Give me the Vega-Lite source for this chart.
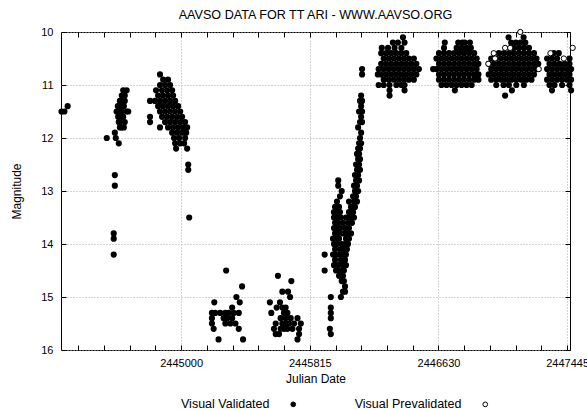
{
"$schema":"https://vega.github.io/schema/vega-lite/v6.json",
"width":509,"height":318,
"autosize":{"type":"none"},
"padding":{"left":61,"top":32,"right":17,"bottom":60},
"title":{"text":"AAVSO DATA FOR TT ARI - WWW.AAVSO.ORG","fontSize":12.6,"fontWeight":"normal","anchor":"middle","offset":4,"color":"#000","font":"Liberation Sans"},
"config":{"font":"Liberation Sans","view":{"stroke":"#000","strokeWidth":1},"background":"white"},
"datasets":{
"vis":[
{"jd":2444242,"mag":11.5},{"jd":2444261,"mag":11.5},{"jd":2444281,"mag":11.4},
{"jd":2444529,"mag":12.0},{"jd":2444580,"mag":11.9},{"jd":2444586,"mag":12.0},{"jd":2444605,"mag":12.1},{"jd":2444580,"mag":12.7},{"jd":2444580,"mag":12.9},{"jd":2444573,"mag":13.8},{"jd":2444573,"mag":13.9},{"jd":2444573,"mag":14.2},
{"jd":2444633,"mag":11.1},{"jd":2444655,"mag":11.1},{"jd":2444624,"mag":11.2},{"jd":2444643,"mag":11.2},{"jd":2444612,"mag":11.3},{"jd":2444630,"mag":11.3},{"jd":2444643,"mag":11.3},{"jd":2444599,"mag":11.4},{"jd":2444618,"mag":11.4},{"jd":2444637,"mag":11.4},{"jd":2444591,"mag":11.5},{"jd":2444610,"mag":11.5},{"jd":2444623,"mag":11.5},{"jd":2444655,"mag":11.5},{"jd":2444665,"mag":11.5},{"jd":2444601,"mag":11.6},{"jd":2444620,"mag":11.6},{"jd":2444633,"mag":11.6},{"jd":2444605,"mag":11.7},{"jd":2444612,"mag":11.7},{"jd":2444643,"mag":11.7},{"jd":2444612,"mag":11.8},{"jd":2444623,"mag":11.8},{"jd":2444637,"mag":11.8},
{"jd":2444866,"mag":10.8},{"jd":2444886,"mag":10.9},{"jd":2444917,"mag":10.9},{"jd":2444866,"mag":11.0},{"jd":2444898,"mag":11.0},{"jd":2444930,"mag":11.0},{"jd":2444841,"mag":11.1},{"jd":2444879,"mag":11.1},{"jd":2444911,"mag":11.1},{"jd":2444943,"mag":11.1},{"jd":2444854,"mag":11.2},{"jd":2444885,"mag":11.2},{"jd":2444917,"mag":11.2},{"jd":2444949,"mag":11.2},{"jd":2444803,"mag":11.3},{"jd":2444834,"mag":11.3},{"jd":2444866,"mag":11.3},{"jd":2444898,"mag":11.3},{"jd":2444930,"mag":11.3},{"jd":2444962,"mag":11.3},{"jd":2444854,"mag":11.4},{"jd":2444885,"mag":11.4},{"jd":2444917,"mag":11.4},{"jd":2444949,"mag":11.4},{"jd":2444981,"mag":11.4},{"jd":2444866,"mag":11.5},{"jd":2444898,"mag":11.5},{"jd":2444930,"mag":11.5},{"jd":2444962,"mag":11.5},{"jd":2444994,"mag":11.5},{"jd":2444803,"mag":11.6},{"jd":2444879,"mag":11.6},{"jd":2444911,"mag":11.6},{"jd":2444943,"mag":11.6},{"jd":2444975,"mag":11.6},{"jd":2445006,"mag":11.6},{"jd":2444803,"mag":11.7},{"jd":2444898,"mag":11.7},{"jd":2444930,"mag":11.7},{"jd":2444962,"mag":11.7},{"jd":2444994,"mag":11.7},{"jd":2445025,"mag":11.7},{"jd":2444866,"mag":11.8},{"jd":2444917,"mag":11.8},{"jd":2444949,"mag":11.8},{"jd":2444981,"mag":11.8},{"jd":2445013,"mag":11.8},{"jd":2445038,"mag":11.8},{"jd":2444943,"mag":11.9},{"jd":2444975,"mag":11.9},{"jd":2445006,"mag":11.9},{"jd":2445032,"mag":11.9},{"jd":2444955,"mag":12.0},{"jd":2444987,"mag":12.0},{"jd":2445025,"mag":12.0},{"jd":2444962,"mag":12.1},{"jd":2444994,"mag":12.1},{"jd":2445019,"mag":12.1},{"jd":2444968,"mag":12.2},{"jd":2445038,"mag":12.2},{"jd":2445045,"mag":12.5},{"jd":2445045,"mag":12.6},{"jd":2445051,"mag":13.5},
{"jd":2445285,"mag":14.5},{"jd":2445386,"mag":14.8},{"jd":2445210,"mag":15.1},{"jd":2445350,"mag":15.0},{"jd":2445371,"mag":15.1},{"jd":2445323,"mag":15.2},{"jd":2445195,"mag":15.3},{"jd":2445216,"mag":15.3},{"jd":2445248,"mag":15.3},{"jd":2445280,"mag":15.3},{"jd":2445301,"mag":15.3},{"jd":2445333,"mag":15.3},{"jd":2445365,"mag":15.3},{"jd":2445195,"mag":15.4},{"jd":2445269,"mag":15.4},{"jd":2445291,"mag":15.4},{"jd":2445323,"mag":15.4},{"jd":2445195,"mag":15.5},{"jd":2445280,"mag":15.5},{"jd":2445312,"mag":15.5},{"jd":2445344,"mag":15.5},{"jd":2445206,"mag":15.6},{"jd":2445365,"mag":15.6},{"jd":2445237,"mag":15.8},{"jd":2445392,"mag":15.8},
{"jd":2445613,"mag":14.6},{"jd":2445698,"mag":14.7},{"jd":2445641,"mag":14.9},{"jd":2445677,"mag":14.9},{"jd":2445690,"mag":15.0},{"jd":2445562,"mag":15.1},{"jd":2445626,"mag":15.1},{"jd":2445605,"mag":15.2},{"jd":2445641,"mag":15.2},{"jd":2445662,"mag":15.2},{"jd":2445571,"mag":15.3},{"jd":2445651,"mag":15.3},{"jd":2445673,"mag":15.3},{"jd":2445630,"mag":15.4},{"jd":2445662,"mag":15.4},{"jd":2445694,"mag":15.4},{"jd":2445737,"mag":15.4},{"jd":2445599,"mag":15.5},{"jd":2445641,"mag":15.5},{"jd":2445662,"mag":15.5},{"jd":2445683,"mag":15.5},{"jd":2445715,"mag":15.5},{"jd":2445758,"mag":15.5},{"jd":2445588,"mag":15.6},{"jd":2445630,"mag":15.6},{"jd":2445652,"mag":15.6},{"jd":2445673,"mag":15.6},{"jd":2445705,"mag":15.6},{"jd":2445747,"mag":15.6},{"jd":2445599,"mag":15.7},{"jd":2445620,"mag":15.7},{"jd":2445747,"mag":15.7},{"jd":2445737,"mag":15.8},
{"jd":2445948,"mag":15.0},{"jd":2445948,"mag":15.2},{"jd":2445948,"mag":15.3},{"jd":2445948,"mag":15.4},{"jd":2445942,"mag":15.6},{"jd":2445948,"mag":15.7},{"jd":2445909,"mag":14.2},{"jd":2445909,"mag":14.5},{"jd":2446012,"mag":15.0},{"jd":2446038,"mag":14.9},{"jd":2446038,"mag":14.8},{"jd":2446025,"mag":14.9},{"jd":2446017,"mag":14.7},{"jd":2446031,"mag":14.7},{"jd":2446000,"mag":14.6},{"jd":2446025,"mag":14.6},{"jd":2445981,"mag":14.5},{"jd":2446006,"mag":14.5},{"jd":2446031,"mag":14.5},{"jd":2445968,"mag":14.4},{"jd":2445995,"mag":14.4},{"jd":2446025,"mag":14.4},{"jd":2446044,"mag":14.4},{"jd":2445975,"mag":14.3},{"jd":2446012,"mag":14.3},{"jd":2446038,"mag":14.3},{"jd":2445962,"mag":14.2},{"jd":2445981,"mag":14.2},{"jd":2446000,"mag":14.2},{"jd":2446025,"mag":14.2},{"jd":2446044,"mag":14.2},{"jd":2445975,"mag":14.1},{"jd":2446006,"mag":14.1},{"jd":2446031,"mag":14.1},{"jd":2446050,"mag":14.1},{"jd":2445968,"mag":14.0},{"jd":2445987,"mag":14.0},{"jd":2446017,"mag":14.0},{"jd":2446038,"mag":14.0},{"jd":2446057,"mag":14.0},{"jd":2445962,"mag":13.9},{"jd":2445981,"mag":13.9},{"jd":2446000,"mag":13.9},{"jd":2446044,"mag":13.9},{"jd":2446063,"mag":13.9},{"jd":2445975,"mag":13.8},{"jd":2445995,"mag":13.8},{"jd":2446025,"mag":13.8},{"jd":2446050,"mag":13.8},{"jd":2446076,"mag":13.8},{"jd":2445968,"mag":13.7},{"jd":2445987,"mag":13.7},{"jd":2446006,"mag":13.7},{"jd":2446038,"mag":13.7},{"jd":2446063,"mag":13.7},{"jd":2445975,"mag":13.6},{"jd":2445995,"mag":13.6},{"jd":2446025,"mag":13.6},{"jd":2446057,"mag":13.6},{"jd":2446082,"mag":13.6},{"jd":2445968,"mag":13.5},{"jd":2445987,"mag":13.5},{"jd":2446012,"mag":13.5},{"jd":2446044,"mag":13.5},{"jd":2446070,"mag":13.5},{"jd":2446095,"mag":13.5},{"jd":2445968,"mag":13.4},{"jd":2445987,"mag":13.4},{"jd":2446006,"mag":13.4},{"jd":2446063,"mag":13.4},{"jd":2446089,"mag":13.4},{"jd":2445975,"mag":13.3},{"jd":2446000,"mag":13.3},{"jd":2446076,"mag":13.3},{"jd":2446101,"mag":13.3},{"jd":2445987,"mag":13.2},{"jd":2446063,"mag":13.2},{"jd":2446095,"mag":13.2},{"jd":2446114,"mag":13.2},{"jd":2446006,"mag":13.1},{"jd":2446089,"mag":13.1},{"jd":2446108,"mag":13.1},{"jd":2446017,"mag":13.0},{"jd":2446101,"mag":13.0},{"jd":2446121,"mag":13.0},{"jd":2445995,"mag":12.9},{"jd":2446095,"mag":12.9},{"jd":2446114,"mag":12.9},{"jd":2445995,"mag":12.8},{"jd":2446108,"mag":12.8},{"jd":2446127,"mag":12.8},{"jd":2446101,"mag":12.7},{"jd":2446121,"mag":12.7},{"jd":2446114,"mag":12.6},{"jd":2446133,"mag":12.6},{"jd":2446108,"mag":12.5},{"jd":2446127,"mag":12.5},{"jd":2446121,"mag":12.4},{"jd":2446133,"mag":12.4},{"jd":2446114,"mag":12.3},{"jd":2446127,"mag":12.3},{"jd":2446121,"mag":12.2},{"jd":2446133,"mag":12.2},{"jd":2446127,"mag":12.1},{"jd":2446140,"mag":12.1},{"jd":2446133,"mag":12.0},{"jd":2446140,"mag":11.9},{"jd":2446121,"mag":11.8},{"jd":2446133,"mag":11.7},{"jd":2446146,"mag":11.7},{"jd":2446140,"mag":11.6},{"jd":2446127,"mag":11.5},{"jd":2446146,"mag":11.5},{"jd":2446140,"mag":11.4},{"jd":2446133,"mag":11.3},{"jd":2446146,"mag":11.3},{"jd":2446140,"mag":11.2},{"jd":2446146,"mag":10.7},{"jd":2446146,"mag":10.8},
{"jd":2446405,"mag":10.1},{"jd":2446341,"mag":10.2},{"jd":2446373,"mag":10.2},{"jd":2446415,"mag":10.2},{"jd":2446271,"mag":10.3},{"jd":2446310,"mag":10.3},{"jd":2446352,"mag":10.3},{"jd":2446395,"mag":10.3},{"jd":2446267,"mag":10.4},{"jd":2446299,"mag":10.4},{"jd":2446331,"mag":10.4},{"jd":2446363,"mag":10.4},{"jd":2446395,"mag":10.4},{"jd":2446426,"mag":10.4},{"jd":2446283,"mag":10.5},{"jd":2446315,"mag":10.5},{"jd":2446347,"mag":10.5},{"jd":2446379,"mag":10.5},{"jd":2446411,"mag":10.5},{"jd":2446442,"mag":10.5},{"jd":2446474,"mag":10.5},{"jd":2446267,"mag":10.6},{"jd":2446299,"mag":10.6},{"jd":2446331,"mag":10.6},{"jd":2446363,"mag":10.6},{"jd":2446395,"mag":10.6},{"jd":2446426,"mag":10.6},{"jd":2446458,"mag":10.6},{"jd":2446490,"mag":10.6},{"jd":2446251,"mag":10.7},{"jd":2446283,"mag":10.7},{"jd":2446315,"mag":10.7},{"jd":2446347,"mag":10.7},{"jd":2446379,"mag":10.7},{"jd":2446411,"mag":10.7},{"jd":2446442,"mag":10.7},{"jd":2446474,"mag":10.7},{"jd":2446506,"mag":10.7},{"jd":2446246,"mag":10.8},{"jd":2446267,"mag":10.8},{"jd":2446299,"mag":10.8},{"jd":2446331,"mag":10.8},{"jd":2446363,"mag":10.8},{"jd":2446395,"mag":10.8},{"jd":2446426,"mag":10.8},{"jd":2446458,"mag":10.8},{"jd":2446490,"mag":10.8},{"jd":2446283,"mag":10.9},{"jd":2446315,"mag":10.9},{"jd":2446347,"mag":10.9},{"jd":2446379,"mag":10.9},{"jd":2446411,"mag":10.9},{"jd":2446442,"mag":10.9},{"jd":2446474,"mag":10.9},{"jd":2446251,"mag":11.0},{"jd":2446283,"mag":11.0},{"jd":2446320,"mag":11.0},{"jd":2446363,"mag":11.0},{"jd":2446395,"mag":11.0},{"jd":2446415,"mag":11.0},{"jd":2446320,"mag":11.1},{"jd":2446415,"mag":11.1},{"jd":2446320,"mag":11.2},
{"jd":2446670,"mag":10.2},{"jd":2446755,"mag":10.2},{"jd":2446781,"mag":10.2},{"jd":2446797,"mag":10.2},{"jd":2446829,"mag":10.2},{"jd":2446665,"mag":10.3},{"jd":2446745,"mag":10.3},{"jd":2446776,"mag":10.3},{"jd":2446808,"mag":10.3},{"jd":2446835,"mag":10.3},{"jd":2446633,"mag":10.4},{"jd":2446665,"mag":10.4},{"jd":2446697,"mag":10.4},{"jd":2446729,"mag":10.4},{"jd":2446761,"mag":10.4},{"jd":2446792,"mag":10.4},{"jd":2446824,"mag":10.4},{"jd":2446856,"mag":10.4},{"jd":2446617,"mag":10.5},{"jd":2446649,"mag":10.5},{"jd":2446681,"mag":10.5},{"jd":2446713,"mag":10.5},{"jd":2446745,"mag":10.5},{"jd":2446776,"mag":10.5},{"jd":2446808,"mag":10.5},{"jd":2446840,"mag":10.5},{"jd":2446872,"mag":10.5},{"jd":2446633,"mag":10.6},{"jd":2446665,"mag":10.6},{"jd":2446697,"mag":10.6},{"jd":2446729,"mag":10.6},{"jd":2446761,"mag":10.6},{"jd":2446792,"mag":10.6},{"jd":2446824,"mag":10.6},{"jd":2446856,"mag":10.6},{"jd":2446883,"mag":10.6},{"jd":2446596,"mag":10.7},{"jd":2446617,"mag":10.7},{"jd":2446649,"mag":10.7},{"jd":2446681,"mag":10.7},{"jd":2446713,"mag":10.7},{"jd":2446745,"mag":10.7},{"jd":2446776,"mag":10.7},{"jd":2446808,"mag":10.7},{"jd":2446840,"mag":10.7},{"jd":2446872,"mag":10.7},{"jd":2446633,"mag":10.8},{"jd":2446665,"mag":10.8},{"jd":2446697,"mag":10.8},{"jd":2446729,"mag":10.8},{"jd":2446761,"mag":10.8},{"jd":2446792,"mag":10.8},{"jd":2446824,"mag":10.8},{"jd":2446856,"mag":10.8},{"jd":2446883,"mag":10.8},{"jd":2446633,"mag":10.9},{"jd":2446665,"mag":10.9},{"jd":2446697,"mag":10.9},{"jd":2446729,"mag":10.9},{"jd":2446761,"mag":10.9},{"jd":2446792,"mag":10.9},{"jd":2446824,"mag":10.9},{"jd":2446856,"mag":10.9},{"jd":2446883,"mag":10.9},{"jd":2446649,"mag":11.0},{"jd":2446681,"mag":11.0},{"jd":2446713,"mag":11.0},{"jd":2446745,"mag":11.0},{"jd":2446776,"mag":11.0},{"jd":2446808,"mag":11.0},{"jd":2446840,"mag":11.0},{"jd":2446734,"mag":11.1},
{"jd":2447074,"mag":10.1},{"jd":2447169,"mag":10.1},{"jd":2447090,"mag":10.2},{"jd":2447120,"mag":10.2},{"jd":2447150,"mag":10.2},{"jd":2447180,"mag":10.2},{"jd":2447107,"mag":10.3},{"jd":2447139,"mag":10.3},{"jd":2447171,"mag":10.3},{"jd":2447203,"mag":10.3},{"jd":2447012,"mag":10.4},{"jd":2447044,"mag":10.4},{"jd":2447076,"mag":10.4},{"jd":2447107,"mag":10.4},{"jd":2447139,"mag":10.4},{"jd":2447171,"mag":10.4},{"jd":2447203,"mag":10.4},{"jd":2447235,"mag":10.4},{"jd":2446964,"mag":10.5},{"jd":2446996,"mag":10.5},{"jd":2447028,"mag":10.5},{"jd":2447060,"mag":10.5},{"jd":2447092,"mag":10.5},{"jd":2447123,"mag":10.5},{"jd":2447155,"mag":10.5},{"jd":2447187,"mag":10.5},{"jd":2447219,"mag":10.5},{"jd":2447251,"mag":10.5},{"jd":2446948,"mag":10.6},{"jd":2446980,"mag":10.6},{"jd":2447012,"mag":10.6},{"jd":2447044,"mag":10.6},{"jd":2447076,"mag":10.6},{"jd":2447107,"mag":10.6},{"jd":2447139,"mag":10.6},{"jd":2447171,"mag":10.6},{"jd":2447203,"mag":10.6},{"jd":2447235,"mag":10.6},{"jd":2447262,"mag":10.6},{"jd":2446964,"mag":10.7},{"jd":2446996,"mag":10.7},{"jd":2447028,"mag":10.7},{"jd":2447060,"mag":10.7},{"jd":2447092,"mag":10.7},{"jd":2447123,"mag":10.7},{"jd":2447155,"mag":10.7},{"jd":2447187,"mag":10.7},{"jd":2447219,"mag":10.7},{"jd":2447251,"mag":10.7},{"jd":2446948,"mag":10.8},{"jd":2446980,"mag":10.8},{"jd":2447012,"mag":10.8},{"jd":2447044,"mag":10.8},{"jd":2447076,"mag":10.8},{"jd":2447107,"mag":10.8},{"jd":2447139,"mag":10.8},{"jd":2447171,"mag":10.8},{"jd":2447203,"mag":10.8},{"jd":2447235,"mag":10.8},{"jd":2446964,"mag":10.9},{"jd":2446996,"mag":10.9},{"jd":2447028,"mag":10.9},{"jd":2447060,"mag":10.9},{"jd":2447092,"mag":10.9},{"jd":2447123,"mag":10.9},{"jd":2447155,"mag":10.9},{"jd":2447187,"mag":10.9},{"jd":2447219,"mag":10.9},{"jd":2446996,"mag":11.0},{"jd":2447042,"mag":11.0},{"jd":2447076,"mag":11.0},{"jd":2447123,"mag":11.0},{"jd":2447171,"mag":11.0},{"jd":2447095,"mag":11.1},{"jd":2447052,"mag":11.2},
{"jd":2447360,"mag":10.4},{"jd":2447392,"mag":10.4},{"jd":2447318,"mag":10.5},{"jd":2447349,"mag":10.5},{"jd":2447381,"mag":10.5},{"jd":2447460,"mag":10.5},{"jd":2447333,"mag":10.6},{"jd":2447365,"mag":10.6},{"jd":2447397,"mag":10.6},{"jd":2447429,"mag":10.6},{"jd":2447460,"mag":10.6},{"jd":2447318,"mag":10.7},{"jd":2447349,"mag":10.7},{"jd":2447381,"mag":10.7},{"jd":2447413,"mag":10.7},{"jd":2447445,"mag":10.7},{"jd":2447470,"mag":10.7},{"jd":2447333,"mag":10.8},{"jd":2447365,"mag":10.8},{"jd":2447397,"mag":10.8},{"jd":2447429,"mag":10.8},{"jd":2447460,"mag":10.8},{"jd":2447318,"mag":10.9},{"jd":2447349,"mag":10.9},{"jd":2447381,"mag":10.9},{"jd":2447413,"mag":10.9},{"jd":2447445,"mag":10.9},{"jd":2447470,"mag":10.9},{"jd":2447333,"mag":11.0},{"jd":2447365,"mag":11.0},{"jd":2447413,"mag":11.0},{"jd":2447460,"mag":11.0},{"jd":2447349,"mag":11.1},{"jd":2447470,"mag":11.1}
],
"pre":[
{"jd":2447148,"mag":10.0},{"jd":2447052,"mag":10.3},{"jd":2447084,"mag":10.3},{"jd":2446988,"mag":10.5},{"jd":2446980,"mag":10.4},{"jd":2446946,"mag":10.6},{"jd":2447265,"mag":10.7},{"jd":2447339,"mag":10.4},{"jd":2447424,"mag":10.5},{"jd":2447480,"mag":10.3}
]},
"resolve":{"axis":{"x":"independent","y":"independent"}},
"layer":[
{"data":{"name":"vis"},
 "mark":{"type":"point","filled":true,"size":38,"shape":"circle","strokeWidth":0,"opacity":1},
 "encoding":{
  "x":{"field":"jd","type":"quantitative","scale":{"domain":[2444239,2447463],"nice":false,"zero":false},
   "axis":{"title":"Julian Date","values":[2444348,2444511,2444674,2444837,2445000,2445163,2445326,2445489,2445652,2445815,2445978,2446141,2446304,2446467,2446630,2446793,2446956,2447119,2447282,2447445],
    "labelExpr":"((datum.value-2445000)%815==0) ? format(datum.value,'d') : ''","labelFlush":false,"labelOverlap":false,
    "tickSize":-5,"tickColor":"#000","domain":false,"labelPadding":12,"labelFontSize":11,"labelColor":"#000","titleFontSize":12,"titleFontWeight":"normal","titleColor":"#000","titlePadding":5,
    "grid":true,"gridDash":[1,2],"gridColor":"#aaa","gridOpacity":{"condition":{"test":"(datum.value-2445000)%815==0","value":1},"value":0}}},
  "y":{"field":"mag","type":"quantitative","scale":{"domain":[10,16],"reverse":true,"nice":false,"zero":false},
   "axis":{"title":"Magnitude","values":[10,11,12,13,14,15,16],"tickSize":-5,"tickColor":"#000","domain":false,"labelPadding":13,"labelFontSize":11,"labelColor":"#000","titleFontSize":12,"titleFontWeight":"normal","titleColor":"#000","titlePadding":17,
    "grid":true,"gridDash":[1,2],"gridColor":"#aaa"}},
  "fill":{"datum":"Visual Validated","type":"nominal","scale":{"domain":["Visual Validated","Visual Prevalidated"],"range":["#000","#fff"]},
   "legend":{"title":null,"orient":"none","legendX":226,"legendY":366,"direction":"horizontal","labelAlign":"right","labelOffset":-30,"columnPadding":56,"symbolSize":22,"symbolStrokeColor":"#000","symbolStrokeWidth":1,"labelFontSize":12.5,"labelColor":"#000","symbolType":"circle"}}
 }},
{"data":{"name":"pre"},
 "mark":{"type":"point","filled":true,"size":28,"shape":"circle","stroke":"#000","strokeWidth":1,"opacity":1},
 "encoding":{
  "x":{"field":"jd","type":"quantitative","scale":{"domain":[2444239,2447463],"nice":false,"zero":false},"axis":null},
  "y":{"field":"mag","type":"quantitative","scale":{"domain":[10,16],"reverse":true,"nice":false,"zero":false},"axis":null},
  "fill":{"datum":"Visual Prevalidated","type":"nominal","scale":{"domain":["Visual Validated","Visual Prevalidated"],"range":["#000","#fff"]}}
 }},
{"data":{"name":"vis"},
 "mark":{"type":"point","opacity":0},
 "encoding":{
  "x":{"field":"jd","type":"quantitative","scale":{"domain":[2444239,2447463],"nice":false,"zero":false},
   "axis":{"orient":"top","title":null,"labels":false,"grid":false,"domain":false,"tickSize":-5,"tickColor":"#000","values":[2444348,2444511,2444674,2444837,2445000,2445163,2445326,2445489,2445652,2445815,2445978,2446141,2446304,2446467,2446630,2446793,2446956,2447119,2447282,2447445]}},
  "y":{"field":"mag","type":"quantitative","scale":{"domain":[10,16],"reverse":true,"nice":false,"zero":false},
   "axis":{"orient":"right","title":null,"labels":false,"grid":false,"domain":false,"tickSize":-5,"tickColor":"#000","values":[10,11,12,13,14,15,16]}}
 }}
]
}
